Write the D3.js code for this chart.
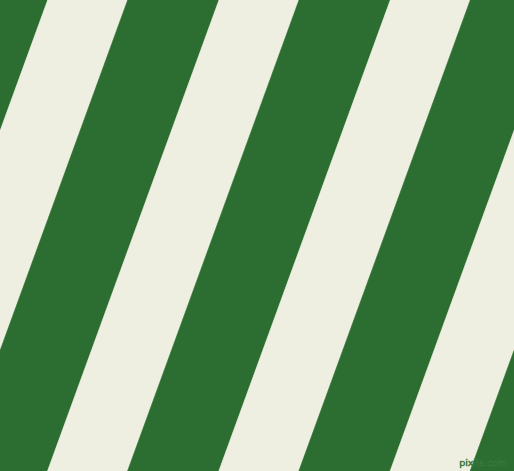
<!DOCTYPE html>
<html>
<head>
<meta charset="utf-8">
<script src="https://cdn.jsdelivr.net/npm/d3@7"></script>
<style>
  html, body { margin: 0; padding: 0; background: #efefe1; }
  svg { display: block; }
</style>
</head>
<body>
<div id="viz"></div>
<script>
// stripe pattern: pairs of green / cream bands at 70 degrees
var stripe_names = ['green', 'cream'];
var stripe_colors = ['#2c6e31', '#efefe1'];
var stripe_widths = [91.3, 80];      // width of each band along the top edge
var stripe_angle = 70;               // degrees from horizontal
var first_cream_x = 47.7;            // where the first cream band meets the top edge
var periods = [-2, -1, 0, 1, 2, 3, 4];

var width = 514,
    height = 471;

var period = d3.sum(stripe_widths);
var slant = 1 / Math.tan(stripe_angle * Math.PI / 180);

// x position along the top edge for period index
var x = d3.scaleLinear()
   .domain([0, 1])
   .range([first_cream_x - stripe_widths[0], first_cream_x - stripe_widths[0] + period]);

var y = d3.scaleLinear().domain([0, height]).range([0, height]);

var bands = [];
periods.forEach(p => {
   var left = x(p);
   stripe_names.forEach((name, i) => {
      bands.push({ name: name, color: stripe_colors[i], left: left, right: left + stripe_widths[i] });
      left += stripe_widths[i];
   });
});

var svg = d3.select('#viz')
   .append('svg')
   .attr('width', width)
   .attr('height', height);

var line = d3.line();

function band_path(d) {
   var top = y(0), bottom = y(height), shift = (bottom - top) * slant;
   return line([
      [d.left, top],
      [d.right, top],
      [d.right - shift, bottom],
      [d.left - shift, bottom]
   ]) + 'Z';
}

svg.selectAll('.band')
   .data(bands)
   .enter()
   .append('path')
   .attr('class', 'band')
   .attr('d', band_path)
   .style('fill', d => d.color)
   .style('stroke', d => d.color)
   .style('stroke-width', 0.6);

// little watermark in the corner
svg.append('text')
   .attr('x', 507)
   .attr('y', 466)
   .attr('text-anchor', 'end')
   .style('font-family', 'DejaVu Sans')
   .style('font-size', '9.5px')
   .style('fill', '#235d28')
   .style('stroke', '#3f7f44')
   .style('stroke-width', 0.5)
   .text('pixlis.com');
</script>
</body>
</html>
